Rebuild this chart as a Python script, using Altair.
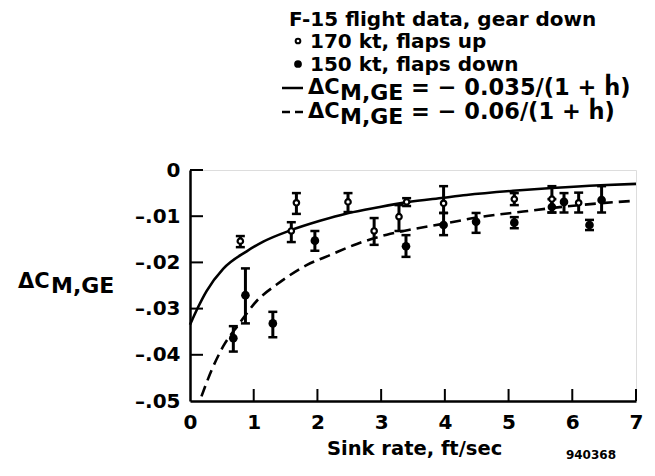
import altair as alt
import pandas as pd

# ---------------- data ----------------
# 170 kt, flaps up (open symbols)
open_h = [0.79, 1.59, 1.67, 2.48, 2.89, 3.28, 3.40, 3.98, 5.09, 5.68, 6.10]
open_v = [-0.0154, -0.0132, -0.0071, -0.0069, -0.0132, -0.0101, -0.0069, -0.0072, -0.0063, -0.0063, -0.0071]
open_lo = [-0.0167, -0.0156, -0.0095, -0.0091, -0.0162, -0.0132, -0.0078, -0.0093, -0.0076, -0.0092, -0.0092]
open_hi = [-0.0143, -0.0113, -0.0050, -0.0050, -0.0104, -0.0076, -0.0061, -0.0035, -0.0050, -0.0035, -0.0049]

# 150 kt, flaps down (filled symbols)
fill_h = [0.68, 0.87, 1.30, 1.96, 3.39, 3.98, 4.49, 5.09, 5.68, 5.87, 6.27, 6.46]
fill_v = [-0.0364, -0.0271, -0.0332, -0.0153, -0.0165, -0.0119, -0.0112, -0.0114, -0.0080, -0.0069, -0.0119, -0.0065]
fill_lo = [-0.0393, -0.0332, -0.0362, -0.0175, -0.0188, -0.0141, -0.0136, -0.0126, -0.0092, -0.0092, -0.0130, -0.0092]
fill_hi = [-0.0338, -0.0213, -0.0307, -0.0132, -0.0141, -0.0093, -0.0093, -0.0102, -0.0063, -0.0050, -0.0108, -0.0035]

# fitted curves
solid_h = [0.0, 0.13, 0.26, 0.52, 0.89, 1.15, 1.57, 2.04, 2.46, 2.98, 3.40, 3.98, 4.34, 5.07, 5.68, 6.44, 7.0]
solid_v = [-0.0335, -0.0296, -0.0262, -0.0214, -0.0176, -0.0155, -0.0131, -0.0110, -0.0094, -0.0080, -0.0070, -0.0060, -0.0054, -0.0045, -0.0039, -0.0033, -0.0030]
dash_h = [0.18, 0.34, 0.52, 0.76, 1.05, 1.36, 1.83, 2.20, 2.62, 3.09, 3.50, 4.03, 4.50, 5.23, 5.70, 6.44, 6.95]
dash_v = [-0.0490, -0.0433, -0.0382, -0.0335, -0.0283, -0.0248, -0.0206, -0.0184, -0.0160, -0.0140, -0.0128, -0.0115, -0.0103, -0.0090, -0.0082, -0.0072, -0.0067]

# axis ticks
x_ticks = [0, 1, 2, 3, 4, 5, 6, 7]
y_ticks = [0, -0.01, -0.02, -0.03, -0.04, -0.05]

# texts
legend_title = "F-15 flight data, gear down"
series_names = ["170 kt, flaps up", "150 kt, flaps down"]
eq_texts = ["= \u2212 0.035/(1 + \u1e23)", "= \u2212 0.06/(1 + \u1e23)"]
y_title = ["\u0394C", "M,GE"]
x_title = "Sink rate, ft/sec"
fig_code = "940368"

FONT = "DejaVu Sans"
W, H = 446, 231

xs = alt.Scale(domain=[0, 7], nice=False, zero=False)
ys = alt.Scale(domain=[-0.05, 0], nice=False, zero=False)

open_df = pd.DataFrame({"h": open_h, "v": open_v, "lo": open_lo, "hi": open_hi})
fill_df = pd.DataFrame({"h": fill_h, "v": fill_v, "lo": fill_lo, "hi": fill_hi})
solid_df = pd.DataFrame({"h": solid_h, "v": solid_v})
dash_df = pd.DataFrame({"h": dash_h, "v": dash_v})

x_axis = alt.Axis(values=x_ticks, ticks=False, grid=False, domainWidth=2.5, domainColor="black",
                  labelFont=FONT, labelFontSize=20, labelFontWeight="bold", labelColor="black",
                  labelPadding=11, labelFlush=False, labelOverlap=False, labelBound=False, title=None)
y_axis = alt.Axis(values=y_ticks, ticks=False, grid=False, domainWidth=2.5, domainColor="black",
                  labelFont=FONT, labelFontSize=20, labelFontWeight="bold", labelColor="black",
                  labelPadding=10, labelFlush=False, labelOverlap=False, labelBound=False, title=None,
                  labelExpr="datum.value == 0 ? '0' : '\u2013.0' + round(-datum.value*100)")


def X(f):
    return alt.X(f, scale=xs, axis=x_axis)


def Y(f):
    return alt.Y(f, scale=ys, axis=y_axis)


# curves
solid = alt.Chart(solid_df).mark_line(color="black", strokeWidth=2.6, interpolate="monotone").encode(
    x=X("h:Q"), y=Y("v:Q"))
dashed = alt.Chart(dash_df).mark_line(color="black", strokeWidth=2.6, strokeDash=[11, 6],
                                      interpolate="monotone").encode(x=X("h:Q"), y=Y("v:Q"))


def err_layers(df):
    bars = alt.Chart(df).mark_rule(color="black", strokeWidth=3).encode(
        x=X("h:Q"), y=Y("lo:Q"), y2="hi:Q")
    cap_lo = alt.Chart(df).mark_tick(color="black", orient="horizontal", size=9, thickness=2.5, opacity=1).encode(
        x=X("h:Q"), y=Y("lo:Q"))
    cap_hi = alt.Chart(df).mark_tick(color="black", orient="horizontal", size=9, thickness=2.5, opacity=1).encode(
        x=X("h:Q"), y=Y("hi:Q"))
    return [bars, cap_lo, cap_hi]


open_pts = alt.Chart(open_df).mark_point(filled=True, fill="white", stroke="black", strokeWidth=2.2,
                                         size=30, opacity=1).encode(x=X("h:Q"), y=Y("v:Q"))
fill_pts = alt.Chart(fill_df).mark_circle(color="black", size=75, opacity=1).encode(x=X("h:Q"), y=Y("v:Q"))

# inward axis ticks
xt_df = pd.DataFrame({"h": x_ticks[1:]})
yt_df = pd.DataFrame({"v": y_ticks[:-1]})
x_tick_marks = alt.Chart(xt_df).mark_rule(color="black", strokeWidth=2).encode(
    x=X("h:Q"), y=alt.value(H), y2=alt.value(H - 12))
y_tick_marks = alt.Chart(yt_df).mark_rule(color="black", strokeWidth=2).encode(
    y=Y("v:Q"), x=alt.value(0), x2=alt.value(13))

one = pd.DataFrame({"t": [""]})


def txt(s, x, y, size=20, align="left"):
    return alt.Chart(pd.DataFrame({"t": [s]})).mark_text(
        align=align, baseline="alphabetic", font=FONT, fontSize=size, fontWeight="bold", color="black"
    ).encode(x=alt.value(x), y=alt.value(y), text="t:N")


texts = [
    txt(legend_title, 99, -144),
    txt(series_names[0], 120, -122),
    txt(series_names[1], 120, -99),
    txt(y_title[0], 118, -76, 21), txt(y_title[1], 150, -70, 22), txt(eq_texts[0], 221, -75, 22.5),
    txt(y_title[0], 118, -52, 21), txt(y_title[1], 150, -46, 22), txt(eq_texts[1], 221, -51, 22.5),
    txt(y_title[0], -172, 118, 21), txt(y_title[1], -139, 123, 22),
    txt(x_title, 137, 285, 19.5),
    txt(fig_code, 426, 289, 12, "right"),
]

leg_open = alt.Chart(one).mark_point(filled=True, fill="white", stroke="black", strokeWidth=2,
                                     size=22, opacity=1).encode(x=alt.value(108), y=alt.value(-129))
leg_fill = alt.Chart(one).mark_circle(color="black", size=60, opacity=1).encode(
    x=alt.value(108), y=alt.value(-106))
leg_solid = alt.Chart(one).mark_rule(color="black", strokeWidth=2.5).encode(
    x=alt.value(92), x2=alt.value(113), y=alt.value(-82))
leg_dash = alt.Chart(one).mark_rule(color="black", strokeWidth=2.5, strokeDash=[8, 5]).encode(
    x=alt.value(92), x2=alt.value(113), y=alt.value(-58))

chart = alt.layer(
    solid, dashed, x_tick_marks, y_tick_marks,
    *err_layers(open_df), *err_layers(fill_df),
    open_pts, fill_pts,
    leg_open, leg_fill, leg_solid, leg_dash,
    *texts,
).properties(
    width=W, height=H,
    padding={"left": 182, "top": 162, "right": 10, "bottom": 60},
    autosize=alt.AutoSizeParams(type="none"),
).configure_view(stroke=None).configure(background="white")

chart.save("out.html", embed_options={"renderer": "svg", "actions": False})
